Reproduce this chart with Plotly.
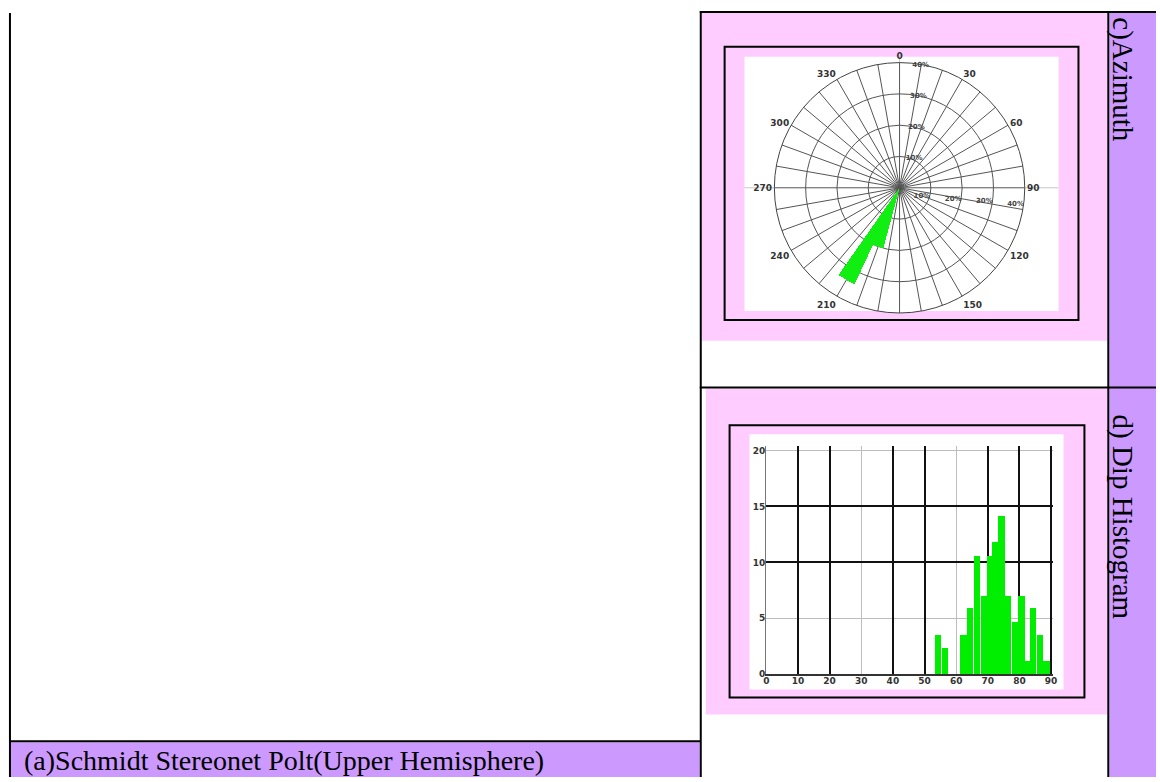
import plotly.graph_objects as go

# ---------------- data ----------------
# c) Azimuth rose (percent of poles per 10-degree sector)
az_bin_center = [200, 210]
az_percent = [20, 34]
az_bin_width = [10, 10]
az_grid_deg = list(range(0, 360, 10))
az_label = {0: "0", 30: "30", 60: "60", 90: "90", 120: "120", 150: "150",
            210: "210", 240: "240", 270: "270", 300: "300", 330: "330"}
radial_ticks = [10, 20, 30, 40]
radial_text = ["10%", "20%", "30%", "40%"]

# d) Dip histogram
dip_bin_center = [54.45, 56.65, 58.6, 60.45, 62.45, 64.55, 66.75, 68.85, 70.75,
                  72.55, 74.45, 76.55, 78.65, 80.75, 82.6, 84.45, 86.55, 88.75]
dip_count = [3.5, 2.35, 0, 0, 3.5, 5.9, 10.6, 7.0, 10.6,
             11.8, 14.1, 7.0, 4.7, 7.0, 1.15, 5.9, 3.5, 1.15]
dip_ticks = list(range(0, 100, 10))
dip_major_grid = [10, 20, 40, 50, 70, 80, 90]
dip_minor_grid = [30, 60]
count_ticks = [0, 5, 10, 15, 20]
count_major_grid = [10, 15]
count_minor_grid = [5, 20]

caption_a = "(a)Schmidt Stereonet Polt(Upper Hemisphere)"
caption_c = "c)Azimuth"
caption_d = "d) Dip Histogram"

# ---------------- layout helpers ----------------
W, H = 1160, 782
def px(x):
    return x / W
def py(y):
    return 1 - y / H

PINK = "#FFCCFF"
PURPLE = "#CC99FF"
GREEN = "#11EE11"

shapes = []
def rect(x0, y0, x1, y1, fill=None, line=None, lw=0):
    shapes.append(dict(type="rect", xref="paper", yref="paper",
                       x0=px(x0), x1=px(x1), y0=py(y1), y1=py(y0),
                       fillcolor=fill if fill else "rgba(0,0,0,0)",
                       line=dict(color=line if line else "rgba(0,0,0,0)", width=lw),
                       layer="below"))
def hline(x0, x1, y, color="black", w=2):
    shapes.append(dict(type="line", xref="paper", yref="paper",
                       x0=px(x0), x1=px(x1), y0=py(y), y1=py(y),
                       line=dict(color=color, width=w), layer="below"))
def vline(x, y0, y1, color="black", w=2):
    shapes.append(dict(type="line", xref="paper", yref="paper",
                       x0=px(x), x1=px(x), y0=py(y0), y1=py(y1),
                       line=dict(color=color, width=w), layer="below"))

# backgrounds
rect(703, 13, 1111, 343, fill=PINK)            # panel c background
rect(707, 391, 1111, 719, fill=PINK)           # panel d background
rect(1113, 13, 1160, 782, fill=PURPLE)         # right label column
rect(8, 747, 701, 782, fill=PURPLE)            # caption bar (a)
rect(746, 57, 1062, 313, fill="white")         # rose image area
rect(751, 437, 1067, 694, fill="white")        # histogram image area
# rose axes extending across image
hline(746, 1062, 189, color="#c8c8c8", w=1)
vline(902, 57, 313, color="#c8c8c8", w=1)
# frames
rect(726, 47, 1082, 322, line="black", lw=2)
rect(731, 428, 1088, 702, line="black", lw=2)
# table lines
vline(7, 13, 782)
hline(7, 702, 746)
vline(702, 11, 782)
hline(701, 1160, 12)
vline(1112, 11, 782)
hline(701, 1160, 390)

fig = go.Figure()

# ---------------- rose diagram ----------------
fig.add_trace(go.Barpolar(r=az_percent, theta=az_bin_center, width=az_bin_width,
                          marker=dict(color=GREEN, line=dict(width=0)),
                          subplot="polar", showlegend=False, hoverinfo="skip"))
fig.add_trace(go.Scatterpolar(r=[], theta=[], subplot="polar2",
                              showlegend=False, hoverinfo="skip"))

cx, cy, rad = 902, 189, 126
pdom_x = [px(cx - rad), px(cx + rad)]
pdom_y = [py(cy + rad), py(cy - rad)]
tick_font = dict(family="DejaVu Sans", size=9, color="#333", weight="bold")
small_font = dict(family="DejaVu Sans", size=7, color="#444", weight="bold")

fig.update_layout(
    polar=dict(
        domain=dict(x=pdom_x, y=pdom_y),
        bgcolor="white",
        angularaxis=dict(rotation=90, direction="clockwise", tickmode="array",
                         tickvals=az_grid_deg,
                         ticktext=[az_label.get(d, "") for d in az_grid_deg],
                         showgrid=True, gridcolor="#555", gridwidth=1,
                         showline=True, linecolor="#444", linewidth=1,
                         ticks="", tickfont=tick_font),
        radialaxis=dict(range=[0, 40], tickmode="array", tickvals=radial_ticks,
                        ticktext=radial_text, angle=-5, tickangle=-5, showline=False,
                        showgrid=True, gridcolor="#555", gridwidth=1,
                        ticks="", tickfont=small_font),
    ),
    polar2=dict(
        domain=dict(x=pdom_x, y=pdom_y),
        bgcolor="rgba(0,0,0,0)",
        angularaxis=dict(visible=False, rotation=90, direction="clockwise"),
        radialaxis=dict(range=[0, 40], tickmode="array", tickvals=radial_ticks,
                        ticktext=radial_text, angle=86, tickangle=86, showline=False,
                        showgrid=False, ticks="", tickfont=small_font),
    ),
)

# ---------------- dip histogram ----------------
fig.add_trace(go.Bar(x=dip_bin_center, y=dip_count, width=2.05,
                     marker=dict(color="#00EE00", line=dict(width=0)),
                     xaxis="x", yaxis="y", showlegend=False, hoverinfo="skip"))
fig.add_trace(go.Scatter(x=[], y=[], xaxis="x2", yaxis="y2",
                         showlegend=False, hoverinfo="skip"))

hx0, hx1 = 768, 1054.3
hy0, hy1 = 678.5, 451
fig.update_layout(
    xaxis=dict(domain=[px(hx0), px(hx1 + 2)], range=[0, 90.6], anchor="y",
               tickmode="array", tickvals=dip_major_grid, showticklabels=False,
               showgrid=True, gridcolor="#111", gridwidth=2,
               minor=dict(tickmode="array", tickvals=dip_minor_grid, showgrid=True,
                          gridcolor="#bdbdbd", gridwidth=1),
               zeroline=False, showline=True, linecolor="#333", linewidth=2),
    yaxis=dict(domain=[py(hy0), py(hy1 - 2)], range=[0, 20.4], anchor="x",
               tickmode="array", tickvals=count_major_grid, showticklabels=False,
               showgrid=True, gridcolor="#111", gridwidth=2,
               minor=dict(tickmode="array", tickvals=count_minor_grid, showgrid=True,
                          gridcolor="#bdbdbd", gridwidth=1),
               zeroline=False, showline=True, linecolor="#777", linewidth=1),
    xaxis2=dict(overlaying="x", anchor="y", side="bottom", range=[0, 90.6],
                tickmode="array", tickvals=dip_ticks, showgrid=False,
                zeroline=False, ticks="", tickfont=tick_font),
    yaxis2=dict(overlaying="y", anchor="x", side="left", range=[0, 20.4],
                tickmode="array", tickvals=count_ticks, showgrid=False,
                zeroline=False, ticks="", tickfont=tick_font),
)

# ---------------- captions ----------------
serif = dict(family="Liberation Serif", size=28, color="black")
serif_v = dict(family="Liberation Serif", size=29, color="black")
fig.update_layout(annotations=[
    dict(text=caption_a, xref="paper", yref="paper", x=px(19), y=py(765),
         xanchor="left", yanchor="middle", showarrow=False, font=serif),
    dict(text=caption_c, xref="paper", yref="paper", x=px(1126), y=py(80),
         xanchor="center", yanchor="middle", textangle=90, showarrow=False, font=serif_v),
    dict(text=caption_d, xref="paper", yref="paper", x=px(1126), y=py(520),
         xanchor="center", yanchor="middle", textangle=90, showarrow=False, font=serif_v),
])

fig.update_layout(width=W, height=H, margin=dict(l=0, r=0, t=0, b=0),
                  paper_bgcolor="white", plot_bgcolor="rgba(0,0,0,0)",
                  shapes=shapes, showlegend=False, bargap=0)

fig.write_html("out.html",
               config={"displayModeBar": False, "responsive": False},
               post_script="document.body.style.margin='0px';"
                           "document.body.style.padding='0px';"
                           "document.body.style.overflow='hidden';")
